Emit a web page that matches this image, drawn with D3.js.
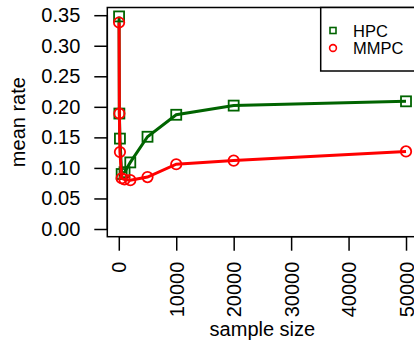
<!DOCTYPE html>
<html><head><meta charset="utf-8">
<script src="https://cdn.jsdelivr.net/npm/d3@7"></script>
<style>body{margin:0;background:#fff}svg{display:block}text{font-family:"Liberation Sans",Arial,Helvetica,sans-serif}</style>
</head><body><svg id="c" width="414" height="344"></svg>
<script>
const sampleSizes = [50, 100, 200, 500, 1000, 2000, 5000, 10000, 20000, 50000];
const hpc  = [0.348, 0.189, 0.148, 0.090, 0.093, 0.109, 0.151, 0.187, 0.202, 0.209];
const mmpc = [0.338, 0.189, 0.126, 0.083, 0.081, 0.080, 0.085, 0.106, 0.112, 0.127];
const xTicks = [0, 10000, 20000, 30000, 40000, 50000];
const yTicks = [0, 0.05, 0.10, 0.15, 0.20, 0.25, 0.30, 0.35];
const seriesNames = ["HPC", "MMPC"];
const seriesColors = ["#006400", "#ff0000"];

const svg = d3.select("#c");
const L = 107.3, R = 417.5, T = 7.5, B = 236.7;
const x = d3.scaleLinear().domain([-2000, 52000]).range([L, R]);
const y = d3.scaleLinear().domain([-0.0126, 0.3626]).range([B, T]);

// box
svg.append("rect").attr("x", L).attr("y", T).attr("width", R - L).attr("height", B - T)
  .attr("fill", "none").attr("stroke", "#000").attr("stroke-width", 1.5);

// y axis
const ya = svg.append("g").attr("transform", `translate(${L},0)`)
  .call(d3.axisLeft(y).tickValues(yTicks).tickFormat(d3.format(".2f")).tickSize(13).tickPadding(14));
ya.select(".domain").attr("d", `M0,${y(0)}V${y(0.35)}`).attr("stroke-width", 1.5);
ya.selectAll(".tick line").attr("stroke-width", 1.5);
ya.selectAll(".tick text").attr("font-size", 20).attr("fill", "#000");

// x axis
const xa = svg.append("g").attr("transform", `translate(0,${B})`)
  .call(d3.axisBottom(x).tickValues(xTicks).tickFormat(d3.format("d")).tickSize(14));
xa.select(".domain").attr("d", `M${x(0)},0H${x(50000)}`).attr("stroke-width", 1.5);
xa.selectAll(".tick line").attr("stroke-width", 1.5);
xa.selectAll(".tick text").attr("font-size", 20).attr("fill", "#000")
  .attr("transform", "rotate(-90)").attr("text-anchor", "end")
  .attr("x", -25).attr("y", 0).attr("dy", "0.35em");

// axis titles
svg.append("text").attr("x", (L + R) / 2).attr("y", 336).attr("text-anchor", "middle")
  .attr("font-size", 20).text("sample size");
svg.append("text").attr("transform", `translate(25,${(T + B) / 2}) rotate(-90)`)
  .attr("text-anchor", "middle").attr("font-size", 20).text("mean rate");

const line = d3.line().x((d, i) => x(sampleSizes[i])).y(d => y(d));

// HPC
svg.append("path").datum(hpc).attr("d", line).attr("fill", "none")
  .attr("stroke", seriesColors[0]).attr("stroke-width", 3);
svg.append("g").selectAll("rect").data(hpc).join("rect")
  .attr("x", (d, i) => x(sampleSizes[i]) - 5).attr("y", d => y(d) - 5)
  .attr("width", 10).attr("height", 10).attr("fill", "none")
  .attr("stroke", seriesColors[0]).attr("stroke-width", 1.8);

// MMPC
svg.append("path").datum(mmpc).attr("d", line).attr("fill", "none")
  .attr("stroke", seriesColors[1]).attr("stroke-width", 3);
svg.append("g").selectAll("circle").data(mmpc).join("circle")
  .attr("cx", (d, i) => x(sampleSizes[i])).attr("cy", d => y(d)).attr("r", 5.2)
  .attr("fill", "none").attr("stroke", seriesColors[1]).attr("stroke-width", 1.8);

// legend
svg.append("rect").attr("x", 320.7).attr("y", T).attr("width", 120).attr("height", 71 - T)
  .attr("fill", "#fff").attr("stroke", "#000").attr("stroke-width", 1.5);
const lg = svg.append("g");
seriesNames.forEach((n, i) => {
  const cy = 30.5 + i * 17.5;
  if (i === 0) {
    lg.append("rect").attr("x", 330).attr("y", cy - 3).attr("width", 6).attr("height", 6)
      .attr("fill", "none").attr("stroke", seriesColors[0]).attr("stroke-width", 1.6);
  } else {
    lg.append("circle").attr("cx", 333).attr("cy", cy).attr("r", 3.4)
      .attr("fill", "none").attr("stroke", seriesColors[1]).attr("stroke-width", 1.6);
  }
  lg.append("text").attr("x", 353).attr("y", cy + 6).attr("font-size", 16.5).text(n);
});
</script></body></html>
